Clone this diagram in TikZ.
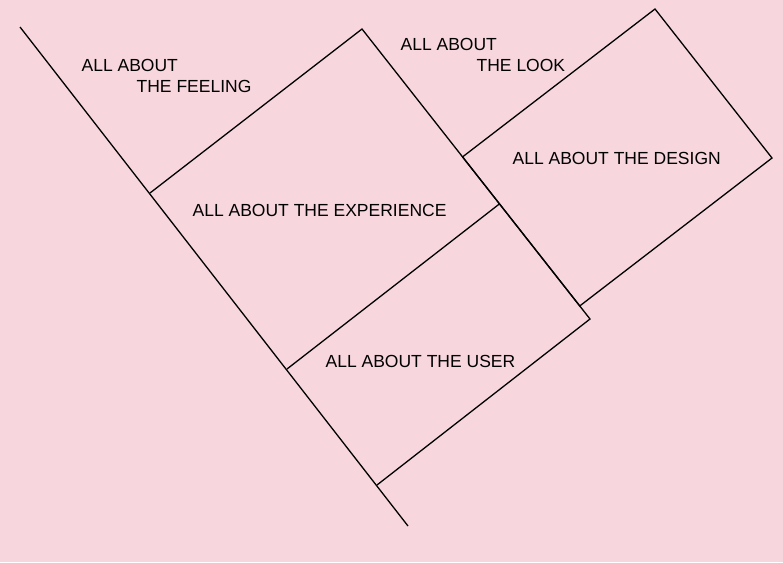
\documentclass[tikz,border=0pt]{standalone}
\usepackage{fontspec}
\setmainfont{Liberation Sans}
\usetikzlibrary{calc}
\definecolor{bgpink}{RGB}{247,214,222}
\begin{document}
\begin{tikzpicture}[x=1pt, y=-1pt, line width=1.3pt,
    label/.style = {inner sep=0pt, font=\fontsize{17.5}{20}\selectfont, anchor=west}]
    \fill[bgpink] (0,0) rectangle (783,562);
    \useasboundingbox (0,0) rectangle (783,562);
    % corners
    \coordinate (axisTop) at (20,27);
    \coordinate (axisEnd) at (408,526);
    \coordinate (feel) at (150,193);
    \coordinate (expTop) at (362,29);
    \coordinate (expRight) at (590,319);
    \coordinate (userLow) at (377,485);
    \coordinate (divLeft) at (287,369);
    \coordinate (divRight) at ($(expTop)!0.603!(expRight)$);
    \coordinate (desLeft) at ($(expTop)!0.441!(expRight)$);
    \coordinate (desTop) at (655,9);
    \coordinate (desRight) at (772,158);
    \coordinate (desLow) at ($(expTop)!0.955!(expRight)$);
    % lines
    \draw (axisTop) -- (axisEnd);
    \draw (feel) -- (expTop) -- (expRight) -- (userLow);
    \draw (divLeft) -- (divRight);
    \draw (desLeft) -- (desTop) -- (desRight) -- (desLow) -- cycle;
    % texts
    \node[label] (feel1) at (81,65) {ALL ABOUT};
    \node[label] (feel2) at (136,86) {THE FEELING};
    \node[label] (look1) at (400,44) {ALL ABOUT};
    \node[label] (look2) at (476,65) {THE LOOK};
    \node[label] (exp) at (192,210) {ALL ABOUT THE EXPERIENCE};
    \node[label] (des) at (512,158) {ALL ABOUT THE DESIGN};
    \node[label] (user) at (325,361) {ALL ABOUT THE USER};
\end{tikzpicture}
\end{document}
